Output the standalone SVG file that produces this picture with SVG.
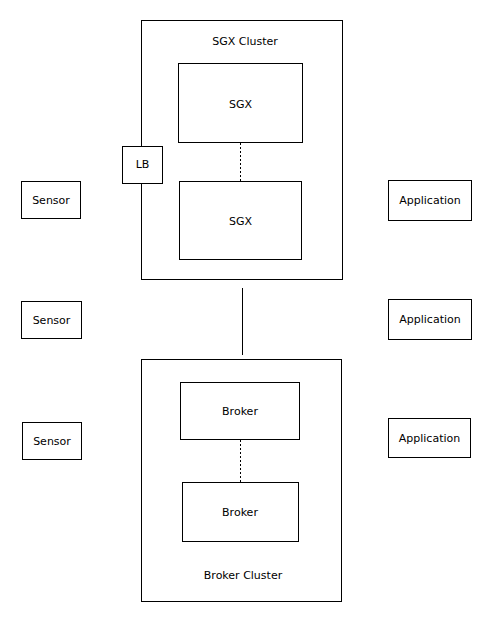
<svg xmlns="http://www.w3.org/2000/svg" width="483" height="626" viewBox="0 0 483 626">
<style>
rect{fill:#fff;stroke:#000;stroke-width:1}
text{font-family:"DejaVu Sans",Tahoma,sans-serif;font-size:11px;fill:#000;text-anchor:middle;dominant-baseline:central}
.dot{stroke:#000;stroke-width:1;stroke-dasharray:2,2;fill:none}
.sol{stroke:#000;stroke-width:1;fill:none}
</style>
<rect width="483" height="626" style="stroke:none"/>
<g id="sgx-cluster"><rect x="141.5" y="20.5" width="201" height="259"/><text x="245" y="41">SGX Cluster</text></g>
<g id="sgx1"><rect x="178.5" y="63.5" width="124" height="79"/><text x="240.5" y="104">SGX</text></g>
<g id="sgx2"><rect x="179.5" y="181.5" width="122" height="78"/><text x="240.5" y="221">SGX</text></g>
<g id="lb"><rect x="122.5" y="146.5" width="40" height="37"/><text x="142.5" y="164.5">LB</text></g>
<g id="broker-cluster"><rect x="141.5" y="359.5" width="200" height="242"/><text x="243" y="575">Broker Cluster</text></g>
<g id="broker1"><rect x="180.5" y="382.5" width="119" height="57"/><text x="240" y="411.5">Broker</text></g>
<g id="broker2"><rect x="182.5" y="482.5" width="116" height="59"/><text x="240" y="512.5">Broker</text></g>
<g id="sensor1"><rect x="21.5" y="181.5" width="59" height="37"/><text x="51" y="200">Sensor</text></g>
<g id="sensor2"><rect x="21.5" y="301.5" width="60" height="37"/><text x="51.5" y="320">Sensor</text></g>
<g id="sensor3"><rect x="22.5" y="422.5" width="59" height="37"/><text x="52" y="441">Sensor</text></g>
<g id="app1"><rect x="388.5" y="180.5" width="83" height="40"/><text x="430" y="200.5">Application</text></g>
<g id="app2"><rect x="388.5" y="299.5" width="83" height="40"/><text x="430" y="319.5">Application</text></g>
<g id="app3"><rect x="388.5" y="418.5" width="82" height="39"/><text x="429.5" y="438.5">Application</text></g>
<g id="connectors">
<line class="dot" x1="240.5" y1="143" x2="240.5" y2="181"/>
<line class="dot" x1="240.5" y1="440" x2="240.5" y2="482"/>
<line class="sol" x1="242.5" y1="288" x2="242.5" y2="355"/>
</g>
</svg>
